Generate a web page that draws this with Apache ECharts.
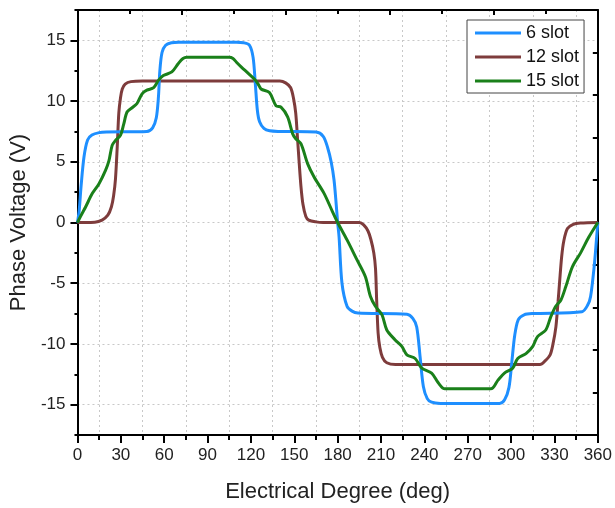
<!DOCTYPE html>
<html>
<head>
<meta charset="utf-8">
<script src="https://cdn.jsdelivr.net/npm/echarts@6/dist/echarts.min.js"></script>
<style>html,body{margin:0;padding:0;background:#fff;}#c{width:615px;height:508px;}</style>
</head>
<body>
<div id="c"></div>
<script>
var seriesNames = ['6 slot', '12 slot', '15 slot'];
var xTickLabels = [0, 30, 60, 90, 120, 150, 180, 210, 240, 270, 300, 330, 360];
var yTickLabels = [-15, -10, -5, 0, 5, 10, 15];

var slot6 = [
  [0,0],[1.2,1.0],[2.5,3.0],[4.5,5.4],[7,6.8],[10,7.2],[15,7.4],[20,7.45],[48,7.5],[52,7.8],[54.5,8.6],[56,10.3],[57,12.5],[58.5,14.0],[61,14.6],[65,14.8],[70,14.85],
  [110,14.85],[115,14.8],[119,14.6],[121.5,13.6],[123,11.5],[124.5,9.2],[126,8.3],[129,7.75],[133,7.55],[140,7.5],[165,7.45],[170,7.1],[173,6.2],[175.5,5.0],[177.5,3.5],[179,1.5],
  [180,0],[181,-1.2],[183,-5],[186.5,-6.9],[190,-7.3],[194,-7.45],[228,-7.55],[232,-7.9],[234.7,-8.6],[237,-11],[239.3,-13.5],[242,-14.5],[245,-14.8],[251,-14.9],
  [292,-14.9],[295.5,-14.6],[298.5,-13.6],[300.5,-11.5],[302.5,-9.3],[305,-8.0],[309,-7.6],[315,-7.5],[349,-7.35],[353,-6.8],[355,-6.1],[357.5,-3.6],[359,-1.5],[360,0]
];
var slot12 = [
  [0,0],[5,0],[12,0.02],[17,0.2],[21,0.6],[23.5,1.3],[25,2.2],[26.3,3.6],[27.5,6.2],[28.6,9.0],[29.8,10.3],[31,11.0],[33,11.4],[37,11.6],[45,11.65],
  [140,11.65],[144,11.5],[147.5,11.1],[149.5,10.2],[151,9.0],[152.2,7.0],[153.4,4.9],[154.6,3.0],[156,1.5],[158,0.5],[160,0.2],[165,0.05],[170,0],
  [195,0],[198,-0.2],[201,-0.7],[203,-1.4],[205,-2.5],[206.2,-3.8],[207,-6.4],[208,-9.1],[209.2,-10.3],[211,-11.1],[214,-11.55],[220,-11.7],
  [320,-11.7],[323.5,-11.4],[327,-10.9],[329,-10],[331,-8.6],[332.5,-6.5],[333.5,-5.0],[335,-2.8],[336.5,-1.5],[339,-0.5],[343,-0.15],[348,-0.05],[360,0]
];
var slot15 = [
  [0,0],[3,0.7],[5.7,1.3],[10.3,2.4],[14.9,3.2],[19.4,4.3],[21.8,5.1],[24,6.35],[26.3,6.76],[29.8,7.2],[32,8.1],[34.3,9.1],[37.8,9.45],[41.2,9.8],[44.7,10.6],[48,10.9],
  [52.7,11.1],[56,11.7],[59.4,12.1],[65.3,12.4],[69.8,13.1],[73,13.5],[75.6,13.6],[105,13.6],[107.6,13.5],[110,13.2],[113.4,12.8],[118,12.3],[122.5,11.8],[125,11.4],
  [127,11.0],[132.8,10.7],[137.4,9.6],[140.8,9.5],[145.4,8.7],[148.9,7.3],[151,6.9],[154.6,6.5],[159.2,4.85],[163.7,3.75],[170.6,2.4],[176.4,0.9],
  [180,0],[186.6,-1.45],[193.5,-3.1],[199.2,-4.47],[202.7,-6.1],[206.1,-6.9],[210.7,-7.6],[214,-8.85],[219.8,-9.67],[224.4,-10.2],[227.9,-10.9],[233.6,-11.2],
  [238.2,-12.0],[245,-12.4],[249.6,-13.2],[254.2,-13.7],[286,-13.7],[290.8,-13.0],[295.4,-12.4],[301.1,-12.0],[304.6,-11.2],[310.3,-10.8],[315,-10.2],[318.3,-9.4],
  [324,-8.85],[327.5,-7.75],[330.9,-6.9],[334.4,-6.4],[337.8,-5.3],[342.4,-3.65],[348.1,-2.5],[353.8,-1.2],[360,0]
];

var colors = ['#1E8FFF', '#7E3C3C', '#1A801A'];
var font = 'Liberation Sans, Arial, sans-serif';
var lineSty = {color: '#000', width: 2};
var tickSty = {color: '#000', width: 2};
var dotted = {show: true, lineStyle: {color: '#c8c8c8', type: [2, 3], width: 1}};
var legendLineIcon = 'path://M0,0 L46,0 L46,3 L0,3 Z';

var chart = echarts.init(document.getElementById('c'));
chart.setOption({
  animation: false,
  backgroundColor: '#fff',
  grid: {left: 75, right: 16, top: 10, bottom: 73, containLabel: false},
  legend: {
    orient: 'vertical', left: 467, top: 20,
    itemWidth: 46, itemHeight: 14, itemGap: 6,
    padding: [4, 5, 3, 8],
    symbolKeepAspect: true,
    borderColor: '#444', borderWidth: 1, backgroundColor: '#fff',
    textStyle: {fontSize: 18, fontFamily: font, color: '#111'},
    data: seriesNames.map(function (n) { return {name: n, icon: legendLineIcon}; })
  },
  xAxis: [
    {
      type: 'value', position: 'bottom', min: 0, max: 360, interval: 30,
      axisLine: {show: true, onZero: false, lineStyle: lineSty},
      axisTick: {show: true, inside: false, length: 8, lineStyle: tickSty},
      minorTick: {show: true, splitNumber: 2, length: 5, lineStyle: tickSty},
      splitLine: {show: false},
      minorSplitLine: dotted,
      axisLabel: {margin: 12, fontSize: 17, fontFamily: font, color: '#222', customValues: xTickLabels},
      name: 'Electrical Degree (deg)', nameLocation: 'middle', nameGap: 46,
      nameTextStyle: {fontSize: 22, fontFamily: font, color: '#222'}
    },
    {
      type: 'value', position: 'top', min: 0, max: 360, interval: 72,
      axisLine: {show: true, onZero: false, lineStyle: lineSty},
      axisTick: {show: true, inside: true, length: 5, lineStyle: tickSty},
      minorTick: {show: true, splitNumber: 2, length: 4, lineStyle: tickSty},
      axisLabel: {show: false}, splitLine: {show: false}
    }
  ],
  yAxis: [
    {
      type: 'value', position: 'left', min: -17.5, max: 17.5, interval: 5,
      axisLine: {show: true, onZero: false, lineStyle: lineSty},
      axisTick: {show: true, inside: false, length: 7, lineStyle: tickSty, customValues: yTickLabels},
      splitLine: dotted,
      axisLabel: {margin: 12, fontSize: 17, fontFamily: font, color: '#222', customValues: yTickLabels},
      name: 'Phase Voltage (V)', nameLocation: 'middle', nameGap: 42,
      nameTextStyle: {fontSize: 22, fontFamily: font, color: '#222'}
    },
    {
      type: 'value', position: 'right', min: -17.5, max: 17.5, interval: 3.5,
      axisLine: {show: true, onZero: false, lineStyle: lineSty},
      axisTick: {show: true, inside: true, length: 5, lineStyle: tickSty},
      axisLabel: {show: false}, splitLine: {show: false}
    },
    {
      type: 'value', position: 'left', min: -17.5, max: 17.5, interval: 5,
      axisLine: {show: false, onZero: false},
      axisTick: {show: true, inside: false, length: 3, lineStyle: tickSty},
      axisLabel: {show: false}, splitLine: {show: false}
    }
  ],
  series: [
    {name: seriesNames[0], type: 'line', data: slot6, symbol: 'none', smooth: 0.3, color: colors[0], lineStyle: {width: 3, color: colors[0]}, z: 3},
    {name: seriesNames[1], type: 'line', data: slot12, symbol: 'none', smooth: 0.3, color: colors[1], lineStyle: {width: 3, color: colors[1]}, z: 2},
    {name: seriesNames[2], type: 'line', data: slot15, symbol: 'none', smooth: 0.3, color: colors[2], lineStyle: {width: 3, color: colors[2]}, z: 4}
  ]
});
</script>
</body>
</html>
